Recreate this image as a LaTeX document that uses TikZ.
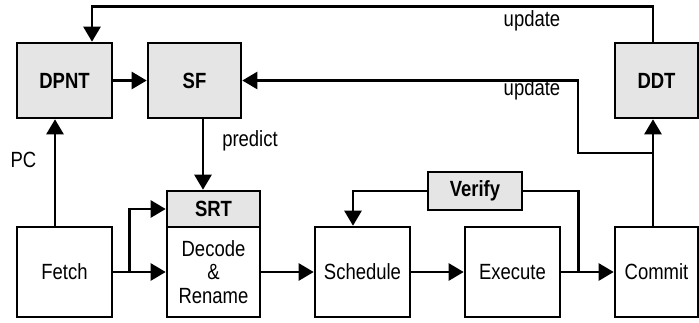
\documentclass[tikz,border=0pt]{standalone}
\usepackage{fontspec}
\setmainfont{Liberation Sans}[FakeStretch=0.84]
\usetikzlibrary{arrows.meta}

\newcommand{\lblsize}{\fontsize{22}{23.5}\selectfont}

\tikzset{
  blk/.style={draw, line width=2.6pt, minimum width=95pt, minimum height=90pt,
    inner sep=0pt, align=center},
  tbl/.style={blk, fill=black!10, minimum height=75pt, font=\lblsize\bfseries},
  wire/.style={line width=2.6pt},
  arr/.style={wire, -{Triangle[length=15pt,width=17pt]}},
}

\begin{document}
\begin{tikzpicture}[x=1pt, y=-1pt, font=\lblsize]
  \useasboundingbox (0,0) rectangle (699,322);
  % Tables
  \node[tbl] (dpnt) at (64.5,80.5) {DPNT};
  \node[tbl, minimum width=93pt] (sf) at (194.5,80.5) {SF};
  \node[tbl, minimum width=83pt] (ddt) at (656.5,80.5) {DDT};
  % Pipeline
  \node[blk] (fetch) at (64.5,272) {Fetch};
  \node[blk, minimum width=93pt] (dec) at (213.5,272) {Decode\\\&\\Rename};
  \node[tbl, minimum width=93pt, minimum height=36pt] (srt) at (213.5,209) {SRT};
  \node[blk] (sched) at (362.5,272) {Schedule};
  \node[blk] (exec) at (512.5,272) {Execute};
  \node[blk, minimum width=83pt] (commit) at (656.5,272) {Commit};
  \node[tbl, minimum width=94pt, minimum height=38pt] (verify) at (475,191) {Verify};
  % Update from DDT
  \draw[arr] ([xshift=-3.5pt]ddt.north) -- ++(0,-35) -| ([xshift=27.5pt]dpnt.north);
  \node (upd1) at (532,21) {update};
  \coordinate (tap) at (653,153);
  \draw[arr] (tap) -| (578,80.5) -- (sf.east);
  \node (upd2) at (532,90) {update};
  \draw[arr] ([xshift=-3.5pt]commit.north) -- ([xshift=-3.5pt]ddt.south);
  % Fetch / predict
  \draw[arr] (dpnt) -- (sf);
  \draw[arr] ([xshift=-9.5pt]fetch.north) -- ([xshift=-9.5pt]dpnt.south);
  \node (pc) at (23.5,160) {PC};
  \draw[arr] ([xshift=8.5pt]sf.south) -- ([xshift=-10.5pt]srt.north);
  \node (pred) at (250,141) {predict};
  \draw[arr] (fetch) -- (dec);
  \draw[arr] ([xshift=16pt]fetch.east) |- (srt.west);
  % Pipeline flow
  \draw[arr] (dec) -- (sched);
  \draw[arr] (sched) -- (exec);
  \draw[arr] (exec) -- (commit);
  % Verify loop
  \draw[wire] ([xshift=17pt]exec.east) |- (verify.east);
  \draw[arr] (verify.west) -| ([xshift=-9.5pt]sched.north);
\end{tikzpicture}
\end{document}
